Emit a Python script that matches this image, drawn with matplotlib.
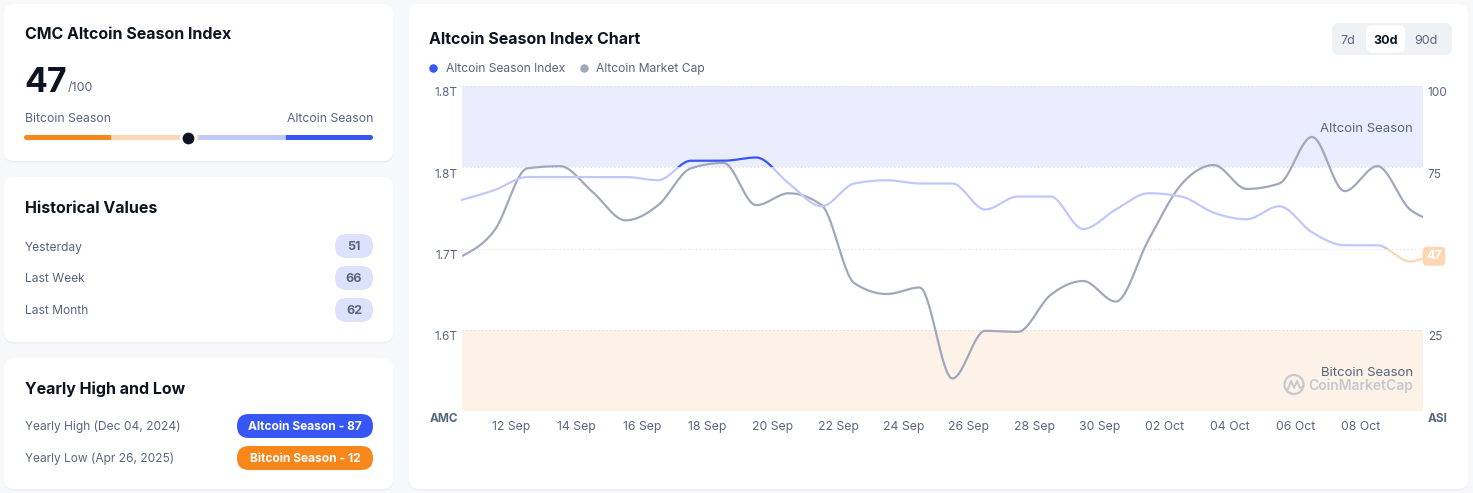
import numpy as np
import pandas as pd
import matplotlib
matplotlib.use("Agg")
import matplotlib.pyplot as plt
import matplotlib.dates as mdates
from matplotlib.patches import FancyBboxPatch, Rectangle, Circle
from matplotlib.transforms import ScaledTranslation


plt.rcParams["font.family"] = ["Inter", "DejaVu Sans"]

W, H = 1473, 493

DARK = "#0d1421"
GRAY = "#58667e"
BLUE = "#3657f6"
ORANGE = "#f7861b"
LIGHT_BLUE = "#c0c8fb"
LIGHT_ORANGE = "#fbd7b3"
BAND_BLUE = "#e9edfd"
BAND_ORANGE = "#fdf2e8"
PILL_LAV = "#dce1fc"
LINE_GRAY = "#a0a8bc"
PAGE = "#f7f8fa"

# ---- data ----
DATES = pd.date_range("2025-09-10 12:00", periods=30, freq="D").append(
    pd.DatetimeIndex(["2025-10-09 21:30"])
)

ASI_VALUES = [65, 68, 72, 72, 72, 72, 71, 77, 77, 78,
              70, 63, 70, 71, 70, 70, 62, 66, 66, 56,
              62, 67, 66, 61, 59, 63, 55, 51, 51, 46, 47]

MCAP_T = [1.683, 1.707, 1.764, 1.766, 1.742, 1.716, 1.730, 1.764, 1.769, 1.730,
          1.741, 1.730, 1.658, 1.648, 1.654, 1.570, 1.614, 1.613, 1.647, 1.660,
          1.641, 1.698, 1.749, 1.767, 1.745, 1.750, 1.793, 1.743, 1.766, 1.726, 1.719]

MCAP_TICKS = [1.54, 1.615, 1.69, 1.765, 1.84]
MCAP_LABELS = ["AMC", "1.6T", "1.7T", "1.8T", "1.8T"]
ASI_TICKS = [0, 25, 75, 100]
ASI_LABELS = ["ASI", "25", "75", "100"]
X_TICKS = pd.date_range("2025-09-12", "2025-10-08", freq="2D")

SEASON_BANDS = [(0, 25, ORANGE), (25, 50, LIGHT_ORANGE), (50, 75, LIGHT_BLUE), (75, 100, BLUE)]

HIST_LABELS = ["Yesterday", "Last Week", "Last Month"]
HIST_VALUES = [51, 66, 62]

YEARLY_LABELS = ["Yearly High (Dec 04, 2024)", "Yearly Low (Apr 26, 2025)"]
YEARLY_BADGES = ["Altcoin Season - 87", "Bitcoin Season - 12"]
YEARLY_COLORS = [BLUE, ORANGE]

PERIODS = ["7d", "30d", "90d"]
ACTIVE_PERIOD = "30d"


def monotone_curve(x, y, steps=30):

    x = np.asarray(x, dtype=float)
    y = np.asarray(y, dtype=float)
    h = np.diff(x)
    s = np.diff(y) / h
    m = np.zeros_like(y)

    for k in range(1, len(y) - 1):
        p = (s[k - 1] * h[k] + s[k] * h[k - 1]) / (h[k - 1] + h[k])
        m[k] = (np.sign(s[k - 1]) + np.sign(s[k])) * min(
            abs(s[k - 1]), abs(s[k]), 0.5 * abs(p)
        )

    m[0] = (3 * s[0] - m[1]) / 2
    m[-1] = (3 * s[-1] - m[-2]) / 2

    xs, ys = [], []
    t = np.linspace(0, 1, steps, endpoint=False)
    h00 = 2 * t**3 - 3 * t**2 + 1
    h10 = t**3 - 2 * t**2 + t
    h01 = -2 * t**3 + 3 * t**2
    h11 = t**3 - t**2

    for k in range(len(h)):
        xs.append(x[k] + t * h[k])
        ys.append(h00 * y[k] + h10 * h[k] * m[k] + h01 * y[k + 1] + h11 * h[k] * m[k + 1])

    xs.append([x[-1]])
    ys.append([y[-1]])

    return np.concatenate(xs), np.concatenate(ys)


def card(ax, x, y, w, h):

    ax.add_patch(FancyBboxPatch(
        (x, y + 1.5), w, h,
        boxstyle="round,pad=0,rounding_size=10",
        fc="#eceef3", ec="none", zorder=1
    ))
    ax.add_patch(FancyBboxPatch(
        (x, y), w, h,
        boxstyle="round,pad=0,rounding_size=10",
        fc="white", ec="none", zorder=2
    ))


def pill(ax, x0, x1, y0, y1, color):

    r = (y1 - y0) / 2
    ax.add_patch(FancyBboxPatch(
        (x0, y0), x1 - x0, y1 - y0,
        boxstyle=f"round,pad=0,rounding_size={r}",
        fc=color, ec="none", zorder=3
    ))


fig = plt.figure(figsize=(W / 100, H / 100), dpi=100)
fig.patch.set_facecolor(PAGE)

# ---- page overlay in pixel units ----
bg = fig.add_axes([0, 0, 1, 1])
bg.set_xlim(0, W)
bg.set_ylim(H, 0)
bg.axis("off")

card(bg, 4, 4, 389, 157)
card(bg, 4, 177, 389, 165)
card(bg, 4, 358, 389, 131)
card(bg, 409, 4, 1059, 485)

# card 1: gauge
current = ASI_VALUES[-1]
bg.text(25, 39, "CMC Altcoin Season Index", fontsize=11.5, fontweight="bold",
        color=DARK, zorder=4)
bg.text(24, 92, str(current), fontsize=24.5, fontweight="bold", color=DARK, zorder=4)
bg.text(68, 91.5, "/100", fontsize=9, color=GRAY, zorder=4)
bg.text(25, 122.5, "Bitcoin Season", fontsize=8.8, color=GRAY, zorder=4)
bg.text(373, 122.5, "Altcoin Season", fontsize=8.8, color=GRAY, ha="right", zorder=4)

g0, g1, gy, gh = 24, 373, 137.5, 5
for i, (lo, hi, col) in enumerate(SEASON_BANDS):
    xa = g0 + (g1 - g0) * lo / 100
    xb = g0 + (g1 - g0) * hi / 100
    if i == 0 or i == len(SEASON_BANDS) - 1:
        bg.add_patch(FancyBboxPatch((xa, gy - gh / 2), xb - xa, gh,
                                    boxstyle=f"round,pad=0,rounding_size={gh / 2}",
                                    fc=col, ec="none", zorder=3))
        bg.add_patch(Rectangle((xb - gh if i == 0 else xa, gy - gh / 2), gh, gh,
                               fc=col, ec="none", zorder=3))
    else:
        bg.add_patch(Rectangle((xa, gy - gh / 2), xb - xa, gh, fc=col, ec="none", zorder=3))

bg.scatter([g0 + (g1 - g0) * current / 100], [gy], s=110, color=DARK,
           edgecolor="white", linewidth=2, zorder=5)

# card 2: historical values
bg.text(25, 213, "Historical Values", fontsize=11.5, fontweight="bold", color=DARK, zorder=4)
for i, (lab, val) in enumerate(zip(HIST_LABELS, HIST_VALUES)):
    base = 250.5 + 32 * i
    bg.text(25, base, lab, fontsize=8.7, color=GRAY, zorder=4)
    pill(bg, 335, 373, base - 16.5, base + 7.5, PILL_LAV)
    bg.text(354, base, str(val), fontsize=9, fontweight="bold", color=GRAY,
            ha="center", zorder=4)

# card 3: yearly high and low
bg.text(25, 394, "Yearly High and Low", fontsize=11.5, fontweight="bold", color=DARK, zorder=4)
for i, (lab, badge, col) in enumerate(zip(YEARLY_LABELS, YEARLY_BADGES, YEARLY_COLORS)):
    base = 430 + 32 * i
    bg.text(25, base, lab, fontsize=8.6, color=GRAY, zorder=4)
    pill(bg, 237, 373, base - 16, base + 8, col)
    bg.text(305, base, badge, fontsize=8.6, fontweight="bold", color="white",
            ha="center", zorder=4)

# chart card header
bg.text(429, 44, "Altcoin Season Index Chart", fontsize=11.5, fontweight="bold",
        color=DARK, zorder=4)
bg.scatter([433], [68], s=26, color=BLUE, zorder=4)
bg.text(446, 72.3, "Altcoin Season Index", fontsize=8.7, color=GRAY, zorder=4)
bg.scatter([584], [68], s=26, color=LINE_GRAY, zorder=4)
bg.text(596, 72.3, "Altcoin Market Cap", fontsize=8.7, color=GRAY, zorder=4)

bg.add_patch(FancyBboxPatch((1332, 23), 120, 32, boxstyle="round,pad=0,rounding_size=7",
                            fc="#eff2f5", ec="none", zorder=3))
bg.add_patch(FancyBboxPatch((1366, 25.5), 39, 27, boxstyle="round,pad=0,rounding_size=6",
                            fc="white", ec="none", zorder=3))
for lab, cx in zip(PERIODS, [1348, 1385.5, 1426]):
    active = lab == ACTIVE_PERIOD
    bg.text(cx, 43.5, lab, fontsize=9, ha="center",
            fontweight="bold" if active else "normal",
            color=DARK if active else GRAY, zorder=4)

# ---- chart axes ----
rect = [462 / W, (H - 411) / H, 961 / W, 325 / H]
x = mdates.date2num(DATES)
xlim = (x[0], x[-1])

ax_bg = fig.add_axes(rect)
ax_bg.set_xlim(xlim)
ax_bg.set_ylim(0, 100)
ax_bg.axis("off")
ax_bg.axhspan(75, 100, color=BAND_BLUE, lw=0)
ax_bg.axhspan(0, 25, color=BAND_ORANGE, lw=0)
for gv in [0, 25, 50, 75, 100]:
    ax_bg.axhline(gv, color="#d9dde5", lw=0.8, ls=(0, (1, 2.5)))

ax_mc = fig.add_axes(rect, sharex=ax_bg)
ax_mc.patch.set_visible(False)
ax_mc.set_ylim(MCAP_TICKS[0], MCAP_TICKS[-1])
xs, ys = monotone_curve(x, MCAP_T)
ax_mc.plot(xs, ys, color=LINE_GRAY, lw=1.6, solid_capstyle="round")

ax_asi = ax_mc.twinx()
ax_asi.set_ylim(0, 100)
xs, ys = monotone_curve(x, ASI_VALUES)
for lo, hi, col in SEASON_BANDS:
    line, = ax_asi.plot(xs, ys, color=col, lw=1.6)
    clip = Rectangle((xlim[0] - 5, lo), xlim[1] - xlim[0] + 10, hi - lo,
                     transform=ax_asi.transData)
    line.set_clip_path(clip)

ax_asi.annotate(str(ASI_VALUES[-1]), xy=(x[-1], ASI_VALUES[-1]), xytext=(11, 2),
                textcoords="offset pixels", ha="center", va="center",
                fontsize=9, fontweight="bold", color="white",
                bbox=dict(boxstyle="round,pad=0.28,rounding_size=0.35",
                          fc=LIGHT_ORANGE, ec="none"),
                annotation_clip=False, zorder=6)

ax_mc.set_xlim(xlim)
ax_mc.set_xticks(mdates.date2num(X_TICKS))
ax_mc.xaxis.set_major_formatter(mdates.DateFormatter("%d %b"))
ax_mc.tick_params(axis="x", length=0, pad=7, labelsize=8.8, labelcolor=GRAY)

ax_mc.set_yticks(MCAP_TICKS)
ax_mc.set_yticklabels(MCAP_LABELS)
ax_mc.tick_params(axis="y", length=0, pad=3, labelsize=8.5, labelcolor=GRAY)

ax_asi.set_yticks(ASI_TICKS)
ax_asi.set_yticklabels(ASI_LABELS)
ax_asi.tick_params(axis="y", length=0, pad=3.5, labelsize=8.5, labelcolor=GRAY)

shift = ScaledTranslation(0, -6 / 100, fig.dpi_scale_trans)
for lab in ax_mc.get_yticklabels() + ax_asi.get_yticklabels():
    lab.set_transform(lab.get_transform() + shift)
    if lab.get_text() in ("AMC", "ASI"):
        lab.set_fontweight("bold")

for a in (ax_mc, ax_asi):
    for sp in a.spines.values():
        sp.set_visible(False)

# ---- band labels and watermark on top ----
top = fig.add_axes([0, 0, 1, 1])
top.set_xlim(0, W)
top.set_ylim(H, 0)
top.axis("off")
top.patch.set_visible(False)

top.text(1413, 129, "Altcoin Season", fontsize=9.5, color=GRAY, ha="right", va="center")
top.text(1413, 372.5, "Bitcoin Season", fontsize=9.5, color=GRAY, ha="right", va="center")
top.text(1413, 385.5, "CoinMarketCap", fontsize=10, fontweight="semibold",
         color="#c6c9d0", ha="right", va="center")
top.add_patch(Circle((1294, 384.5), 9.5, fill=False, ec="#c6c9d0", lw=1.6))
top.plot([1288, 1291, 1294, 1297, 1300, 1303],
         [389, 381, 388, 381, 388, 386], color="#c6c9d0", lw=1.4,
         solid_joinstyle="round", solid_capstyle="round")

fig.savefig("out.png", dpi=100, facecolor=fig.get_facecolor())
